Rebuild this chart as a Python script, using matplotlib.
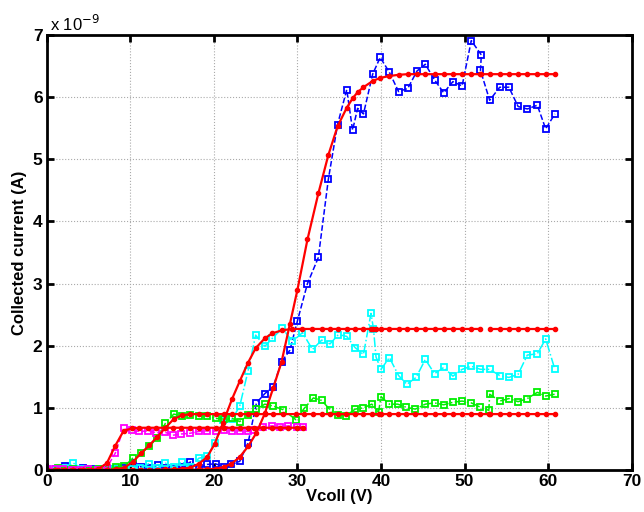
import numpy as np
import matplotlib
matplotlib.use('Agg')
import matplotlib.pyplot as plt

plt.rcParams['font.family'] = ['Liberation Sans', 'DejaVu Sans']

# Collected current in units of 1e-9 A

# blue run
v_blue = [0, 1.1, 2.2, 3.2, 4.3, 5.3, 6.3, 7.2, 8.2, 9.2, 10.3, 11.3, 12.3, 13.3, 14.3,
          15.2, 16.2, 17.2, 18.2, 19.2, 20.2, 21.2, 22.1, 23.1, 24.1, 25.1, 26.1, 27.1,
          28.1, 29.1, 30.0, 31.2, 32.5, 33.7, 34.8, 35.9, 36.6, 37.2, 37.9, 39.0, 39.9,
          41.0, 42.1, 43.2, 44.3, 45.3, 46.4, 47.5, 48.6, 49.7, 50.8, 52.0, 51.9, 53.0,
          54.2, 55.3, 56.4, 57.5, 58.7, 59.7, 60.8]
i_blue = [0.0, 0.01, 0.07, 0.02, 0.03, 0.01, 0.0, 0.01, 0.02, 0.03, 0.12, 0.05, 0.03, 0.08, 0.03,
          0.02, 0.05, 0.13, 0.03, 0.09, 0.10, 0.05, 0.09, 0.14, 0.44, 1.08, 1.23, 1.34,
          1.74, 1.93, 2.40, 3.00, 3.42, 4.68, 5.56, 6.12, 5.47, 5.82, 5.73, 6.37, 6.64,
          6.40, 6.09, 6.14, 6.42, 6.53, 6.28, 6.07, 6.25, 6.18, 6.91, 6.68, 6.43, 5.95,
          6.16, 6.16, 5.85, 5.81, 5.87, 5.49, 5.73]
fit_blue = [0, 0, 0, 0, 0, 0, 0, 0, 0, 0, 0, 0, 0, 0, 0,
            0, 0, 0, 0.01, 0.01, 0.02, 0.05, 0.10, 0.21, 0.38, 0.60, 0.91, 1.32,
            1.74, 2.35, 2.90, 3.71, 4.45, 5.07, 5.53, 5.83, 5.98, 6.08, 6.16, 6.26, 6.31,
            6.34, 6.36, 6.37, 6.37, 6.37, 6.37, 6.37, 6.37, 6.37, 6.37, 6.37, 6.37, 6.37,
            6.37, 6.37, 6.37, 6.37, 6.37, 6.37, 6.37]

# cyan run
v_cyan = [0, 1.1, 2.2, 3.2, 4.3, 5.3, 6.3, 7.2, 8.2, 9.2, 10.2, 11.2, 12.2, 13.2, 14.2,
          15.2, 16.2, 17.2, 18.2, 19.2, 20.1, 21.1, 22.2, 23.1, 24.1, 25.0, 26.1, 27.0,
          28.2, 29.4, 30.6, 31.8, 32.9, 33.9, 34.9, 35.9, 36.9, 37.9, 38.8, 39.1, 39.4,
          40.0, 41.0, 42.1, 43.1, 44.2, 45.3, 46.4, 47.5, 48.6, 49.7, 50.8, 51.9, 53.0,
          54.2, 55.3, 56.4, 57.5, 58.7, 59.7, 60.8]
i_cyan = [0.02, 0.0, 0.03, 0.11, 0.02, 0.0, 0.01, 0.0, 0.02, 0.0, 0.01, 0.03, 0.10, 0.03, 0.11,
          0.05, 0.13, 0.05, 0.19, 0.22, 0.43, 0.80, 0.82, 1.03, 1.60, 2.17, 1.99, 2.12,
          2.28, 2.07, 2.21, 1.94, 2.09, 2.03, 2.18, 2.15, 1.97, 1.86, 2.52, 2.27, 1.82,
          1.62, 1.81, 1.52, 1.38, 1.49, 1.78, 1.55, 1.65, 1.51, 1.62, 1.67, 1.62, 1.62,
          1.52, 1.49, 1.54, 1.85, 1.87, 2.11, 1.62]
fit_cyan = [0, 0, 0, 0, 0, 0, 0, 0, 0, 0, 0, 0, 0, 0, 0.01,
            0.01, 0.02, 0.04, 0.10, 0.21, 0.42, 0.76, 1.15, 1.43, 1.73, 1.96, 2.12, 2.20,
            2.25, 2.27, 2.27, 2.27, 2.27, 2.27, 2.27, 2.27, 2.27, 2.27, 2.27, 2.27, 2.27,
            2.27, 2.27, 2.27, 2.27, 2.27, 2.27, 2.27, 2.27, 2.27, 2.27, 2.27, 2.27, 2.27,
            2.27, 2.27, 2.27, 2.27, 2.27, 2.27, 2.27]

# green run
v_green = [0, 1.3, 2.2, 3.2, 4.3, 5.3, 6.3, 7.2, 8.3, 9.3, 10.3, 11.3, 12.3, 13.2, 14.2,
           15.2, 16.2, 17.2, 18.2, 19.2, 20.2, 21.2, 22.2, 23.1, 24.1, 25.1, 26.1, 27.1,
           28.3, 29.8, 30.8, 31.9, 32.9, 33.9, 34.8, 35.8, 36.9, 37.9, 38.9, 39.7, 40.0,
           41.0, 42.0, 43.0, 44.1, 45.3, 46.4, 47.5, 48.6, 49.7, 50.8, 51.9, 52.9, 53.0,
           54.2, 55.3, 56.4, 57.5, 58.7, 59.7, 60.8]
i_green = [0.0, 0.03, 0.0, 0.01, 0.0, 0.0, 0.01, 0.0, 0.05, 0.06, 0.19, 0.27, 0.38, 0.52, 0.75,
           0.90, 0.87, 0.89, 0.87, 0.87, 0.83, 0.82, 0.83, 0.78, 0.89, 0.98, 1.06, 1.03,
           0.97, 0.81, 0.99, 1.16, 1.12, 0.97, 0.89, 0.87, 0.98, 1.00, 1.06, 0.93, 1.18,
           1.06, 1.06, 1.01, 0.98, 1.06, 1.08, 1.05, 1.09, 1.11, 1.08, 1.01, 0.96, 1.22,
           1.11, 1.15, 1.10, 1.15, 1.25, 1.19, 1.22]
fit_green = [0, 0, 0, 0, 0, 0, 0, 0, 0.01, 0.04, 0.13, 0.27, 0.40, 0.53, 0.68,
             0.82, 0.88, 0.90, 0.90, 0.90, 0.90, 0.90, 0.90, 0.90, 0.90, 0.90, 0.90, 0.90,
             0.90, 0.90, 0.90, 0.90, 0.90, 0.90, 0.90, 0.90, 0.90, 0.90, 0.90, 0.90, 0.90,
             0.90, 0.90, 0.90, 0.90, 0.90, 0.90, 0.90, 0.90, 0.90, 0.90, 0.90, 0.90, 0.90,
             0.90, 0.90, 0.90, 0.90, 0.90, 0.90, 0.90]

# magenta run (stops at ~31 V)
v_mag = [0, 1.0, 2.0, 3.0, 4.0, 5.0, 6.1, 7.2, 8.2, 9.2, 10.2, 11.1, 12.1, 13.1, 14.1, 15.1,
         16.1, 17.1, 18.2, 19.2, 20.2, 21.2, 22.2, 23.1, 24.1, 24.8, 25.9, 26.9, 27.9,
         28.9, 29.9, 30.7]
i_mag = [0.01, 0.01, 0.01, 0.0, 0.0, 0.01, 0.0, 0.04, 0.27, 0.67, 0.64, 0.62, 0.63, 0.60, 0.61, 0.56,
         0.58, 0.59, 0.62, 0.63, 0.63, 0.65, 0.63, 0.63, 0.62, 0.64, 0.70, 0.71, 0.70,
         0.71, 0.70, 0.70]
fit_mag = [0, 0, 0, 0, 0, 0, 0.01, 0.11, 0.39, 0.63, 0.67, 0.68, 0.68, 0.68, 0.68, 0.68,
           0.68, 0.68, 0.68, 0.68, 0.68, 0.68, 0.68, 0.68, 0.68, 0.68, 0.68, 0.68, 0.68,
           0.68, 0.68, 0.68]

fig = plt.figure(figsize=(6.44, 5.12), dpi=100)
ax = fig.add_axes([0.0725, 0.082, 0.9085, 0.8496])

data_style = dict(marker='s', markersize=4, markerfacecolor='none', markeredgewidth=1.3, linewidth=1.1)
ax.plot(v_blue, i_blue, '--', color='#0000ff', **data_style)
ax.plot(v_cyan, i_cyan, '-.', color='#00ffff', **data_style)
ax.plot(v_green, i_green, '-.', color='#00ee00', **data_style)
ax.plot(v_mag, i_mag, '--', color='#ff00ff', **data_style)

fit_style = dict(color='red', marker='.', markersize=6, linewidth=1.6)
ax.plot(v_blue, fit_blue, '-', **fit_style)
vc = np.array(v_cyan)
fc = np.array(fit_cyan)
ax.plot(vc[vc < 52.5], fc[vc < 52.5], '-', **fit_style)
ax.plot(vc[vc > 52.5], fc[vc > 52.5], '-', **fit_style)
ax.plot(v_green, fit_green, '-', **fit_style)
ax.plot(v_mag, fit_mag, '-', **fit_style)

ax.set_xlim(0, 70)
ax.set_ylim(0, 7)
ax.set_xticks(range(0, 71, 10))
ax.set_yticks(range(0, 8))
ax.grid(True, linestyle=':', color='#aaaaaa', linewidth=0.8)
ax.tick_params(direction='in', length=5, width=2, top=True, right=True, labelsize=12.5, pad=3)
for lab in ax.get_xticklabels() + ax.get_yticklabels():
    lab.set_fontweight('bold')
for sp in ax.spines.values():
    sp.set_linewidth(2)

ax.set_xlabel('Vcoll (V)', fontsize=12, fontweight='bold', labelpad=0)
ax.set_ylabel('Collected current (A)', fontsize=12, fontweight='bold', labelpad=4)
ax.text(0.005, 1.003, r'x 10$^{-9}$', transform=ax.transAxes, fontsize=12,
        ha='left', va='bottom')

fig.savefig('out.png', dpi=100)
